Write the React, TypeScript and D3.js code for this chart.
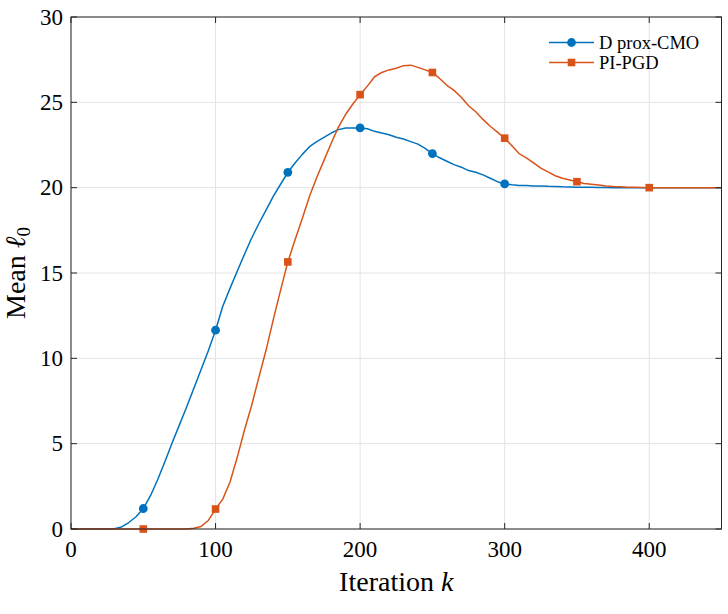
import React from "react";
import * as d3 from "d3";

// Iteration index, sampled every 5 iterations
const iterations: number[] = d3.range(0, 451, 5);

// Mean l0 of the D prox-CMO iterates
const proxCmo: number[] = [
  0, 0, 0, 0, 0, 0, 0.02, 0.12, 0.38, 0.72,
  1.2, 1.95, 2.9, 3.95, 5.05, 6.1, 7.15, 8.25, 9.35, 10.45,
  11.65, 13.05, 14.1, 15.1, 16.1, 17.05, 17.9, 18.7, 19.5, 20.2,
  20.9, 21.45, 21.95, 22.4, 22.7, 22.95, 23.2, 23.4, 23.5, 23.5,
  23.5, 23.45, 23.3, 23.2, 23.1, 22.95, 22.85, 22.7, 22.55, 22.3,
  22.0, 21.75, 21.55, 21.35, 21.2, 21.0, 20.9, 20.75, 20.55, 20.35,
  20.22, 20.17, 20.13, 20.12, 20.1, 20.1, 20.08, 20.07, 20.05, 20.04,
  20.03, 20.02, 20.02, 20.01, 20.01, 20, 20, 20, 20, 20,
  20, 20, 20, 20, 20, 20, 20, 20, 20, 20, 20,
];

// Mean l0 of the PI-PGD iterates
const piPgd: number[] = [
  0, 0, 0, 0, 0, 0, 0, 0, 0, 0,
  0, 0, 0, 0, 0, 0, 0, 0.04, 0.15, 0.5,
  1.17, 1.75, 2.75, 4.2, 5.8, 7.25, 8.9, 10.5, 12.3, 14.0,
  15.65, 16.95, 18.2, 19.5, 20.6, 21.6, 22.6, 23.55, 24.3, 24.9,
  25.45, 25.95, 26.5, 26.75, 26.9, 27.0, 27.15, 27.18, 27.05, 26.9,
  26.75, 26.4, 26.0, 25.7, 25.3, 24.8, 24.45, 24.0, 23.6, 23.25,
  22.9, 22.45, 22.0, 21.75, 21.45, 21.15, 20.92, 20.7, 20.55, 20.45,
  20.35, 20.25, 20.2, 20.15, 20.1, 20.07, 20.05, 20.03, 20.02, 20.01,
  20, 20, 20, 20, 20, 20, 20, 20, 20, 20, 20,
];

// Iterations that carry a marker
const proxCmoMarkers: number[] = [50, 100, 150, 200, 250, 300];
const piPgdMarkers: number[] = [50, 100, 150, 200, 250, 300, 350, 400];

const xTicks: number[] = [0, 100, 200, 300, 400];
const yTicks: number[] = [0, 5, 10, 15, 20, 25, 30];

const seriesNames: string[] = ["D prox-CMO", "PI-PGD"];
const seriesColors: string[] = ["#0072BD", "#D95319"];

const W = 728;
const H = 614;
const left = 71;
const right = 721.5;
const top = 17;
const bottom = 529;

const serif = "Liberation Serif, DejaVu Serif, Times New Roman, serif";
const textStyle = { fontFamily: serif };
const axisColor = "#262626";
const gridColor = "#e3e3e3";

export default function App() {
  const x = d3.scaleLinear().domain([0, 450]).range([left, right]);
  const y = d3.scaleLinear().domain([0, 30]).range([bottom, top]);

  const line = (vals: number[]) =>
    d3
      .line<number>()
      .x((_, i) => x(iterations[i]))
      .y((v) => y(v))(vals) as string;

  const valueAt = (vals: number[], k: number) => vals[iterations.indexOf(k)];

  const legendX0 = 549;
  const legendX1 = 594;
  const legendRows = [42.5, 62.5];

  return (
    <svg
      width={W}
      height={H}
      style={{ position: "absolute", left: 0, top: 0, background: "#fff" }}
    >
      <rect x={0} y={0} width={W} height={H} fill="#fff" />

      {/* grid */}
      {xTicks.map((t) => (
        <line key={"gx" + t} x1={x(t)} x2={x(t)} y1={top} y2={bottom} stroke={gridColor} strokeWidth={1} />
      ))}
      {yTicks.map((t) => (
        <line key={"gy" + t} x1={left} x2={right} y1={y(t)} y2={y(t)} stroke={gridColor} strokeWidth={1} />
      ))}

      {/* series lines */}
      <path d={line(proxCmo)} fill="none" stroke={seriesColors[0]} strokeWidth={1.5} strokeLinejoin="round" />
      <path d={line(piPgd)} fill="none" stroke={seriesColors[1]} strokeWidth={1.5} strokeLinejoin="round" />

      {/* markers */}
      {proxCmoMarkers.map((k) => (
        <circle key={"c" + k} cx={x(k)} cy={y(valueAt(proxCmo, k))} r={4.4} fill={seriesColors[0]} />
      ))}
      {piPgdMarkers.map((k) => (
        <rect
          key={"s" + k}
          x={x(k) - 3.8}
          y={y(valueAt(piPgd, k)) - 3.8}
          width={7.6}
          height={7.6}
          fill={seriesColors[1]}
        />
      ))}

      {/* axes box */}
      <rect x={left} y={top} width={right - left} height={bottom - top} fill="none" stroke={axisColor} strokeWidth={1} />

      {/* ticks */}
      {xTicks.map((t) => (
        <g key={"tx" + t}>
          <line x1={x(t)} x2={x(t)} y1={bottom} y2={bottom - 6} stroke={axisColor} />
          <line x1={x(t)} x2={x(t)} y1={top} y2={top + 6} stroke={axisColor} />
          <text x={x(t)} y={557} textAnchor="middle" fontSize={23} fill="#000" style={textStyle}>
            {t}
          </text>
        </g>
      ))}
      {yTicks.map((t) => (
        <g key={"ty" + t}>
          <line x1={left} x2={left + 6} y1={y(t)} y2={y(t)} stroke={axisColor} />
          <line x1={right} x2={right - 6} y1={y(t)} y2={y(t)} stroke={axisColor} />
          <text x={63} y={y(t)} dy="0.34em" textAnchor="end" fontSize={23} fill="#000" style={textStyle}>
            {t}
          </text>
        </g>
      ))}

      {/* axis labels */}
      <text x={(left + right) / 2} y={591} textAnchor="middle" fontSize={28} fill="#000" style={textStyle}>
        Iteration <tspan fontStyle="italic">k</tspan>
      </text>
      <text
        transform={`translate(25, ${(top + bottom) / 2}) rotate(-90)`}
        textAnchor="middle"
        fontSize={28}
        fill="#000"
        style={textStyle}
      >
        Mean <tspan fontStyle="italic">ℓ</tspan>
        <tspan fontSize={19} dy={5}>0</tspan>
      </text>

      {/* legend */}
      {seriesNames.map((name, i) => (
        <g key={name}>
          <line
            x1={legendX0}
            x2={legendX1}
            y1={legendRows[i]}
            y2={legendRows[i]}
            stroke={seriesColors[i]}
            strokeWidth={1.5}
          />
          {i === 0 ? (
            <circle cx={(legendX0 + legendX1) / 2} cy={legendRows[i]} r={4.4} fill={seriesColors[i]} />
          ) : (
            <rect
              x={(legendX0 + legendX1) / 2 - 3.8}
              y={legendRows[i] - 3.8}
              width={7.6}
              height={7.6}
              fill={seriesColors[i]}
            />
          )}
          <text x={599} y={legendRows[i]} dy="0.34em" fontSize={18.5} fill="#000" style={textStyle}>
            {name}
          </text>
        </g>
      ))}
    </svg>
  );
}
